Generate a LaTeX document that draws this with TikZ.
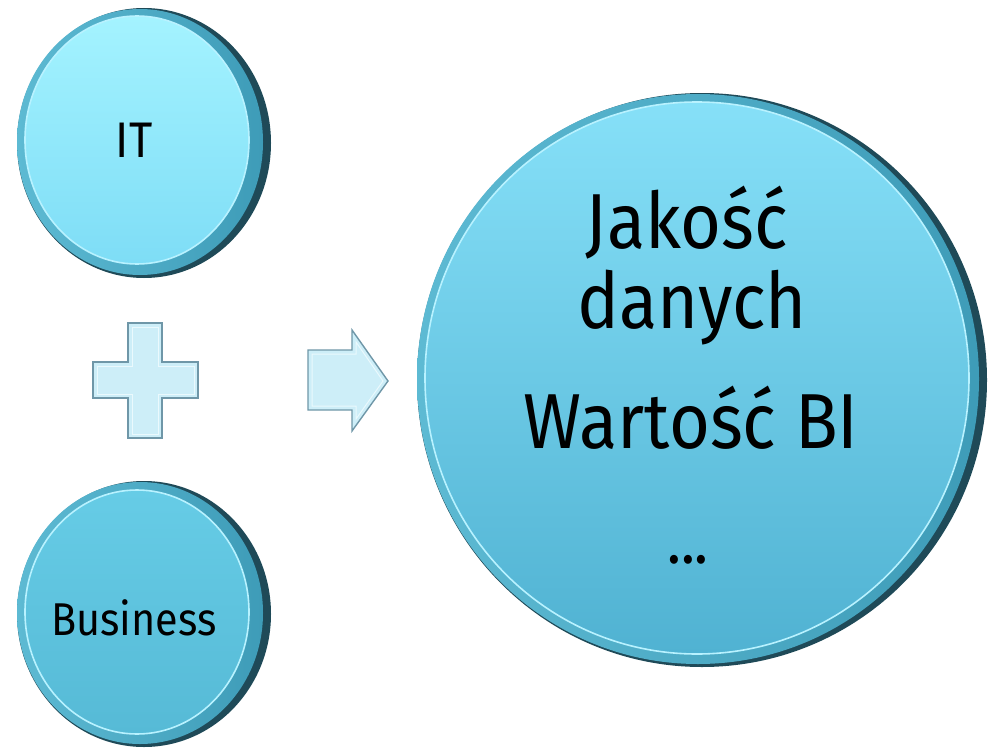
\documentclass[tikz,border=0pt]{standalone}
\usepackage{fontspec}
\setmainfont{Fira Sans}[FakeStretch=0.9]
\usetikzlibrary{shapes.geometric}
\definecolor{rimA}{HTML}{5DBAD3}
\definecolor{rimB}{HTML}{3E9CB8}
\definecolor{rimC}{HTML}{1F4A58}
\definecolor{itTop}{HTML}{A4F3FF}
\definecolor{itBot}{HTML}{7EDDF6}
\definecolor{buTop}{HTML}{66CCE6}
\definecolor{buBot}{HTML}{56BAD6}
\definecolor{bigTop}{HTML}{86E0F8}
\definecolor{bigBot}{HTML}{50B2D2}
\definecolor{shapeFill}{HTML}{CDEEF8}
\definecolor{shapeEdge}{HTML}{6F97A8}
\definecolor{shapeLight}{HTML}{EAF9FD}
\definecolor{hilite}{HTML}{B8F2FF}
\tikzset{
  rimdark/.style={ellipse, inner sep=0pt, fill=rimC, draw=none},
  rim/.style={ellipse, inner sep=0pt, draw=none,
    left color=rimA, right color=rimB},
  face/.style={ellipse, inner sep=0pt, draw=hilite, line width=1.6pt},
  lbl/.style={anchor=base, inner sep=0pt, text=black},
  shapebox/.style={fill=shapeFill, draw=shapeEdge, line width=1.4pt, line join=miter},
  shapeinner/.style={draw=shapeLight, line width=1pt, line join=miter}
}
\begin{document}
\begin{tikzpicture}[x=1pt,y=-1pt]
\path[use as bounding box] (0,0) rectangle (988,752);
% IT circle
\node[rimdark, minimum width=254pt, minimum height=270pt] (itdark) at (144,143) {};
\node[rim, minimum width=246pt, minimum height=266pt] (itrim) at (140,142) {};
\node[face, minimum width=224pt, minimum height=248pt, top color=itTop, bottom color=itBot] (itface) at (137,140) {};
\node[lbl, font=\fontsize{50}{60}\selectfont] (ittext) at (134,157) {IT};
% Business circle
\node[rimdark, minimum width=254pt, minimum height=266pt] (budark) at (144,614) {};
\node[rim, minimum width=246pt, minimum height=262pt] (burim) at (140,613) {};
\node[face, minimum width=224pt, minimum height=244pt, top color=buTop, bottom color=buBot] (buface) at (137,612) {};
\node[lbl, font=\fontsize{46}{56}\selectfont] (butext) at (134,635) {Business};
% Big circle
\node[rimdark, minimum width=570pt, minimum height=574pt] (bigdark) at (702,380) {};
\node[rim, minimum width=562pt, minimum height=570pt] (bigrim) at (698,379) {};
\node[face, minimum width=544pt, minimum height=552pt, top color=bigTop, bottom color=bigBot] (bigface) at (697,378) {};
\node[lbl, font=\fontsize{78}{90}\selectfont] (t1) at (687,248) {Jakość};
\node[lbl, font=\fontsize{78}{90}\selectfont] (t2) at (692,328) {danych};
\node[lbl, font=\fontsize{78}{90}\selectfont] (t3) at (691,448) {Wartość BI};
\node[lbl, font=\fontsize{64}{80}\selectfont] (t4) at (688,563) {...};
% Plus sign
\path[shapebox] (128,323) -- (162,323) -- (162,362) -- (198,362) -- (198,398) -- (162,398)
  -- (162,438) -- (128,438) -- (128,398) -- (93,398) -- (93,362) -- (128,362) -- cycle;
\path[shapeinner] (132,327) -- (158,327) -- (158,366) -- (194,366) -- (194,394) -- (158,394)
  -- (158,434) -- (132,434) -- (132,394) -- (97,394) -- (97,366) -- (132,366) -- cycle;
% Arrow
\path[shapebox] (308,350) -- (352,350) -- (352,330) -- (388,381) -- (352,431) -- (352,410)
  -- (308,410) -- cycle;
\path[shapeinner] (312,354) -- (356,354) -- (356,342) -- (383,381) -- (356,419) -- (356,406)
  -- (312,406) -- cycle;
\end{tikzpicture}
\end{document}
